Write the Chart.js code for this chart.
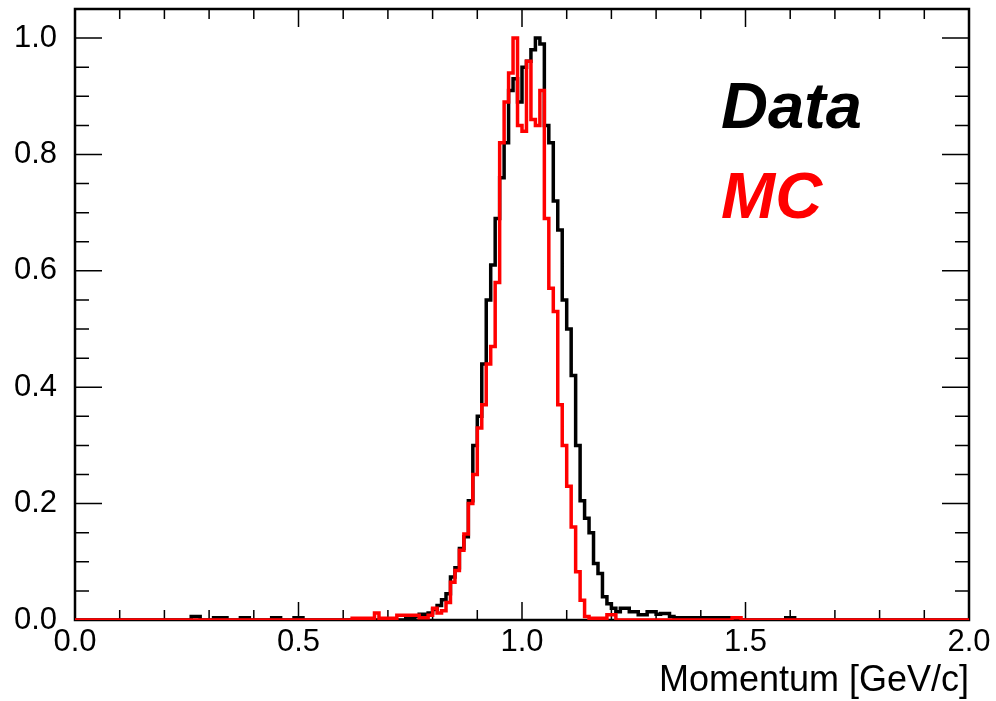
<!DOCTYPE html>
<html>
<head>
<meta charset="utf-8">
<script src="https://cdn.jsdelivr.net/npm/chart.js@4.4.1/dist/chart.umd.min.js"></script>
<style>
  html, body { margin: 0; padding: 0; background: #fff; }
</style>
</head>
<body>
<canvas id="momentumChart" width="996" height="701"></canvas>
<script>
// histogram binning: 200 bins of 0.01 GeV/c from 0 to 2
const binLow = 0.0;
const binWidth = 0.01;

// normalised bin contents, bin k covers [k*0.01, (k+1)*0.01)
const dataCounts = [
  0,0,0,0,0,0,0,0,0,0,0,0,0,0,0,0,0,0,0,0,
  0,0,0,0,0,0,.006,.006,0,0,0,.004,.004,.004,0,0,0,.004,.004,0,
  0,0,0,0,.004,.004,0,0,0,.004,.004,0,0,0,0,0,0,0,0,0,
  0,0,0,0,0,0,0,0,0,0,0,0,0,0,.003,.004,.006,.01,.01,.012,
  .018,.025,.035,.045,.074,.09,.123,.143,.205,.30,.35,.44,.55,.61,.69,.76,.82,.91,.93,.89,
  .95,.96,.98,1.0,.99,.85,.82,.72,.67,.55,.50,.42,.30,.205,.175,.15,.097,.08,.04,.028,
  .02,.014,.02,.02,.014,.014,.009,.009,.014,.014,.01,.011,.011,.006,.004,.004,.004,.004,.004,.004,
  .004,.004,.004,.004,.004,.004,.004,0,0,0,0,0,0,0,0,0,0,0,0,.004,
  .004,0,0,0,0,0,0,0,0,0,0,0,0,0,0,0,0,0,0,0,
  0,0,0,0,0,0,0,0,0,0,0,0,0,0,0,0,0,0,0,0
];

const mcCounts = [
  0,0,0,0,0,0,0,0,0,0,0,0,0,0,0,0,0,0,0,0,
  0,0,0,0,0,0,0,0,0,0,0,0,0,0,0,0,0,0,0,0,
  0,0,0,0,0,0,0,0,0,0,0,0,0,0,0,0,0,0,0,0,
  0,0,.003,.003,.003,.003,.003,.012,.003,.003,.003,.003,.008,.008,.008,.008,.008,.004,.004,.008,
  .02,.012,.016,.03,.065,.085,.12,.148,.20,.25,.33,.37,.44,.47,.58,.82,.89,.94,1.0,.85,
  .84,.96,.86,.85,.91,.69,.57,.53,.37,.30,.23,.16,.083,.034,.006,.003,.003,.003,.003,.009,
  .009,0,0,0,0,0,0,0,0,0,0,0,0,0,0,0,0,0,0,0,
  0,0,0,0,0,0,0,.004,.004,0,0,0,0,0,0,0,0,0,0,0,
  0,0,0,0,0,0,0,0,0,0,0,0,0,0,0,0,0,0,0,0,
  0,0,0,0,0,0,0,0,0,0,0,0,0,0,0,0,0,0,0,0
];

const xRange = [0, 2.0];
const yRange = [0, 1.05];
const xMajorStep = 0.5, xMinorStep = 0.1;
const yMajorStep = 0.2, yMinorStep = 0.05;

const seriesNames = ["Data", "MC"];
const seriesColors = ["#000000", "#ff0000"];

// bin edges -> step points (last point closes the final bin)
function histPoints(counts) {
  const pts = counts.map((v, i) => ({ x: binLow + i * binWidth, y: v }));
  pts.push({ x: binLow + counts.length * binWidth, y: counts[counts.length - 1] });
  return pts;
}

const FONT = "'Liberation Sans', Arial, Helvetica, sans-serif";

// ROOT style frame with inward ticks on all four sides, plus the text labels
const rootFrame = {
  id: "rootFrame",
  beforeDatasetsDraw(chart) {
    const { ctx, chartArea: a, scales: { x, y } } = chart;
    ctx.save();
    ctx.strokeStyle = "#000";
    ctx.lineWidth = 1.5;
    ctx.beginPath();
    const nx = Math.round((xRange[1] - xRange[0]) / xMinorStep);
    for (let i = 0; i <= nx; i++) {
      const px = x.getPixelForValue(xRange[0] + i * xMinorStep);
      const len = i % Math.round(xMajorStep / xMinorStep) === 0 ? 18 : 10;
      ctx.moveTo(px, a.bottom); ctx.lineTo(px, a.bottom - len);
      ctx.moveTo(px, a.top); ctx.lineTo(px, a.top + len);
    }
    const ny = Math.floor((yRange[1] - yRange[0]) / yMinorStep + 1e-6);
    for (let i = 0; i <= ny; i++) {
      const py = y.getPixelForValue(yRange[0] + i * yMinorStep);
      const len = i % Math.round(yMajorStep / yMinorStep) === 0 ? 27 : 14;
      ctx.moveTo(a.left, py); ctx.lineTo(a.left + len, py);
      ctx.moveTo(a.right, py); ctx.lineTo(a.right - len, py);
    }
    ctx.stroke();
    ctx.lineWidth = 2.5;
    ctx.strokeRect(a.left, a.top, a.right - a.left, a.bottom - a.top);
    ctx.restore();
  },
  afterDatasetsDraw(chart) {
    const { ctx } = chart;
    ctx.save();
    ctx.font = "italic bold 65px " + FONT;
    ctx.textAlign = "left";
    ctx.textBaseline = "alphabetic";
    ctx.fillStyle = seriesColors[0];
    ctx.fillText(seriesNames[0], 721, 128);
    ctx.fillStyle = seriesColors[1];
    ctx.fillText(seriesNames[1], 721, 218);
    ctx.restore();
  }
};

new Chart(document.getElementById("momentumChart"), {
  type: "line",
  data: {
    datasets: [
      {
        label: seriesNames[0],
        data: histPoints(dataCounts),
        borderColor: seriesColors[0],
        borderWidth: 3.5,
        stepped: "before",
        pointRadius: 0,
        fill: false,
        order: 1
      },
      {
        label: seriesNames[1],
        data: histPoints(mcCounts),
        borderColor: seriesColors[1],
        borderWidth: 3.5,
        stepped: "before",
        pointRadius: 0,
        fill: false,
        order: 0
      }
    ]
  },
  options: {
    responsive: false,
    animation: false,
    parsing: false,
    layout: { padding: { top: 9, right: 27, left: 0, bottom: 0 } },
    plugins: {
      legend: { display: false },
      tooltip: { enabled: false }
    },
    scales: {
      x: {
        type: "linear",
        min: xRange[0],
        max: xRange[1],
        grid: { display: false, drawTicks: false },
        border: { display: false },
        ticks: {
          stepSize: xMajorStep,
          padding: 4,
          color: "#000",
          font: { family: FONT, size: 31 },
          maxRotation: 0,
          callback: (v) => v.toFixed(1)
        },
        title: {
          display: true,
          text: "Momentum [GeV/c]",
          align: "end",
          color: "#000",
          font: { family: FONT, size: 36 },
          padding: { top: 0, bottom: -2 }
        },
        afterFit(scale) {
          scale.height = 81;
          scale.paddingLeft = 0; scale.paddingRight = 0;
        }
      },
      y: {
        min: yRange[0],
        max: yRange[1],
        grid: { display: false, drawTicks: false },
        border: { display: false },
        ticks: {
          stepSize: yMajorStep,
          includeBounds: false,
          padding: 18,
          color: "#000",
          font: { family: FONT, size: 31 },
          callback: (v) => v.toFixed(1)
        },
        afterFit(scale) {
          scale.width = 75;
          scale.paddingTop = 0; scale.paddingBottom = 0;
        }
      }
    }
  },
  plugins: [rootFrame]
});
</script>
</body>
</html>
